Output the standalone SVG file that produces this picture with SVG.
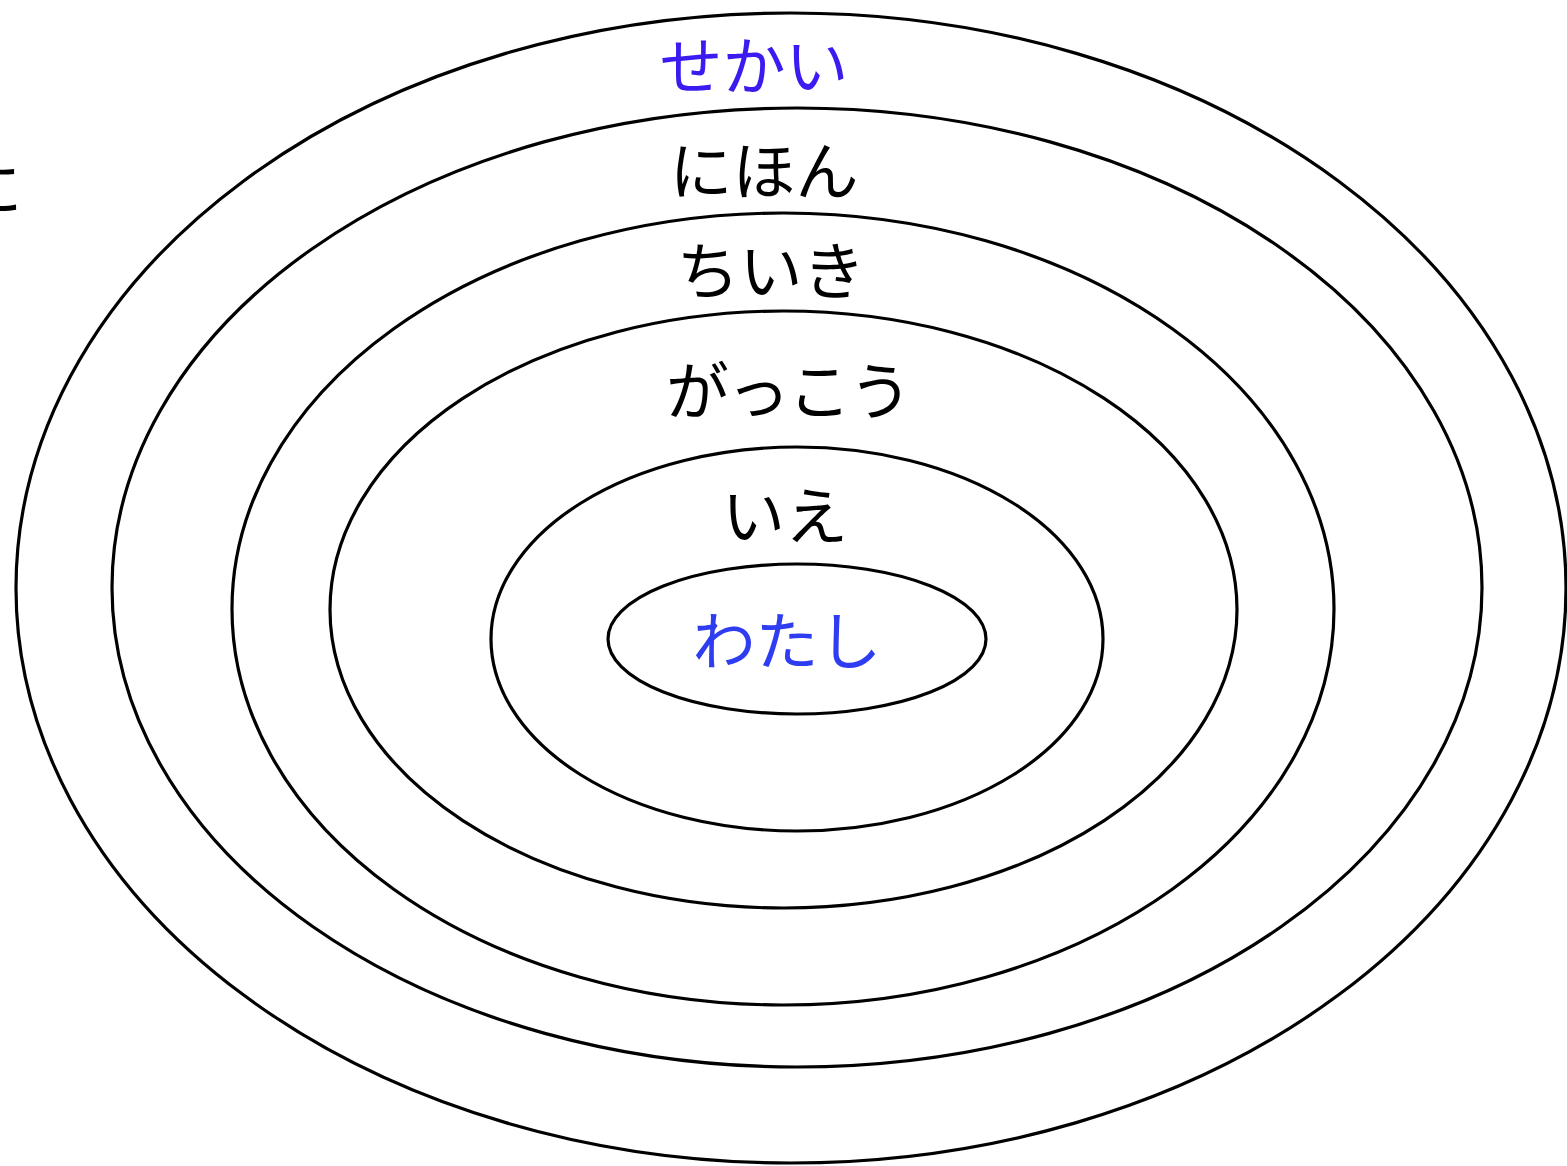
<svg xmlns="http://www.w3.org/2000/svg" width="1567" height="1166" viewBox="0 0 1567 1166">
<style>
.ring{fill:none;stroke:#000;stroke-width:3.2}
.lbl{font-family:"Noto Sans CJK JP","Noto Sans",sans-serif;font-size:63px;text-anchor:middle;fill:#000}
.blue{fill:#3a1cf0}
.blue2{fill:#2e3cf2}
</style>
<rect width="1567" height="1166" fill="#fff"/>
<g id="edge-text"><text class="lbl" x="-9" y="211">に</text></g>
<g id="sekai"><ellipse class="ring" cx="791" cy="588" rx="775" ry="575"/><text class="lbl blue" x="754" y="89">せかい</text></g>
<g id="nihon"><ellipse class="ring" cx="797" cy="587.5" rx="685" ry="479.5"/><text class="lbl" x="764" y="194">にほん</text></g>
<g id="chiiki"><ellipse class="ring" cx="783" cy="609" rx="551" ry="396"/><text class="lbl" x="771" y="294">ちいき</text></g>
<g id="gakkou"><ellipse class="ring" cx="783.5" cy="609.5" rx="453.5" ry="298.5"/><text class="lbl" x="788" y="414" letter-spacing="-2">がっこう</text></g>
<g id="ie"><ellipse class="ring" cx="797" cy="639" rx="306" ry="192"/><text class="lbl" x="785" y="539">いえ</text></g>
<g id="watashi"><ellipse class="ring" cx="797" cy="639" rx="189" ry="75"/><text class="lbl blue2" x="787" y="664">わたし</text></g>
<g id="connectors"/>
</svg>
